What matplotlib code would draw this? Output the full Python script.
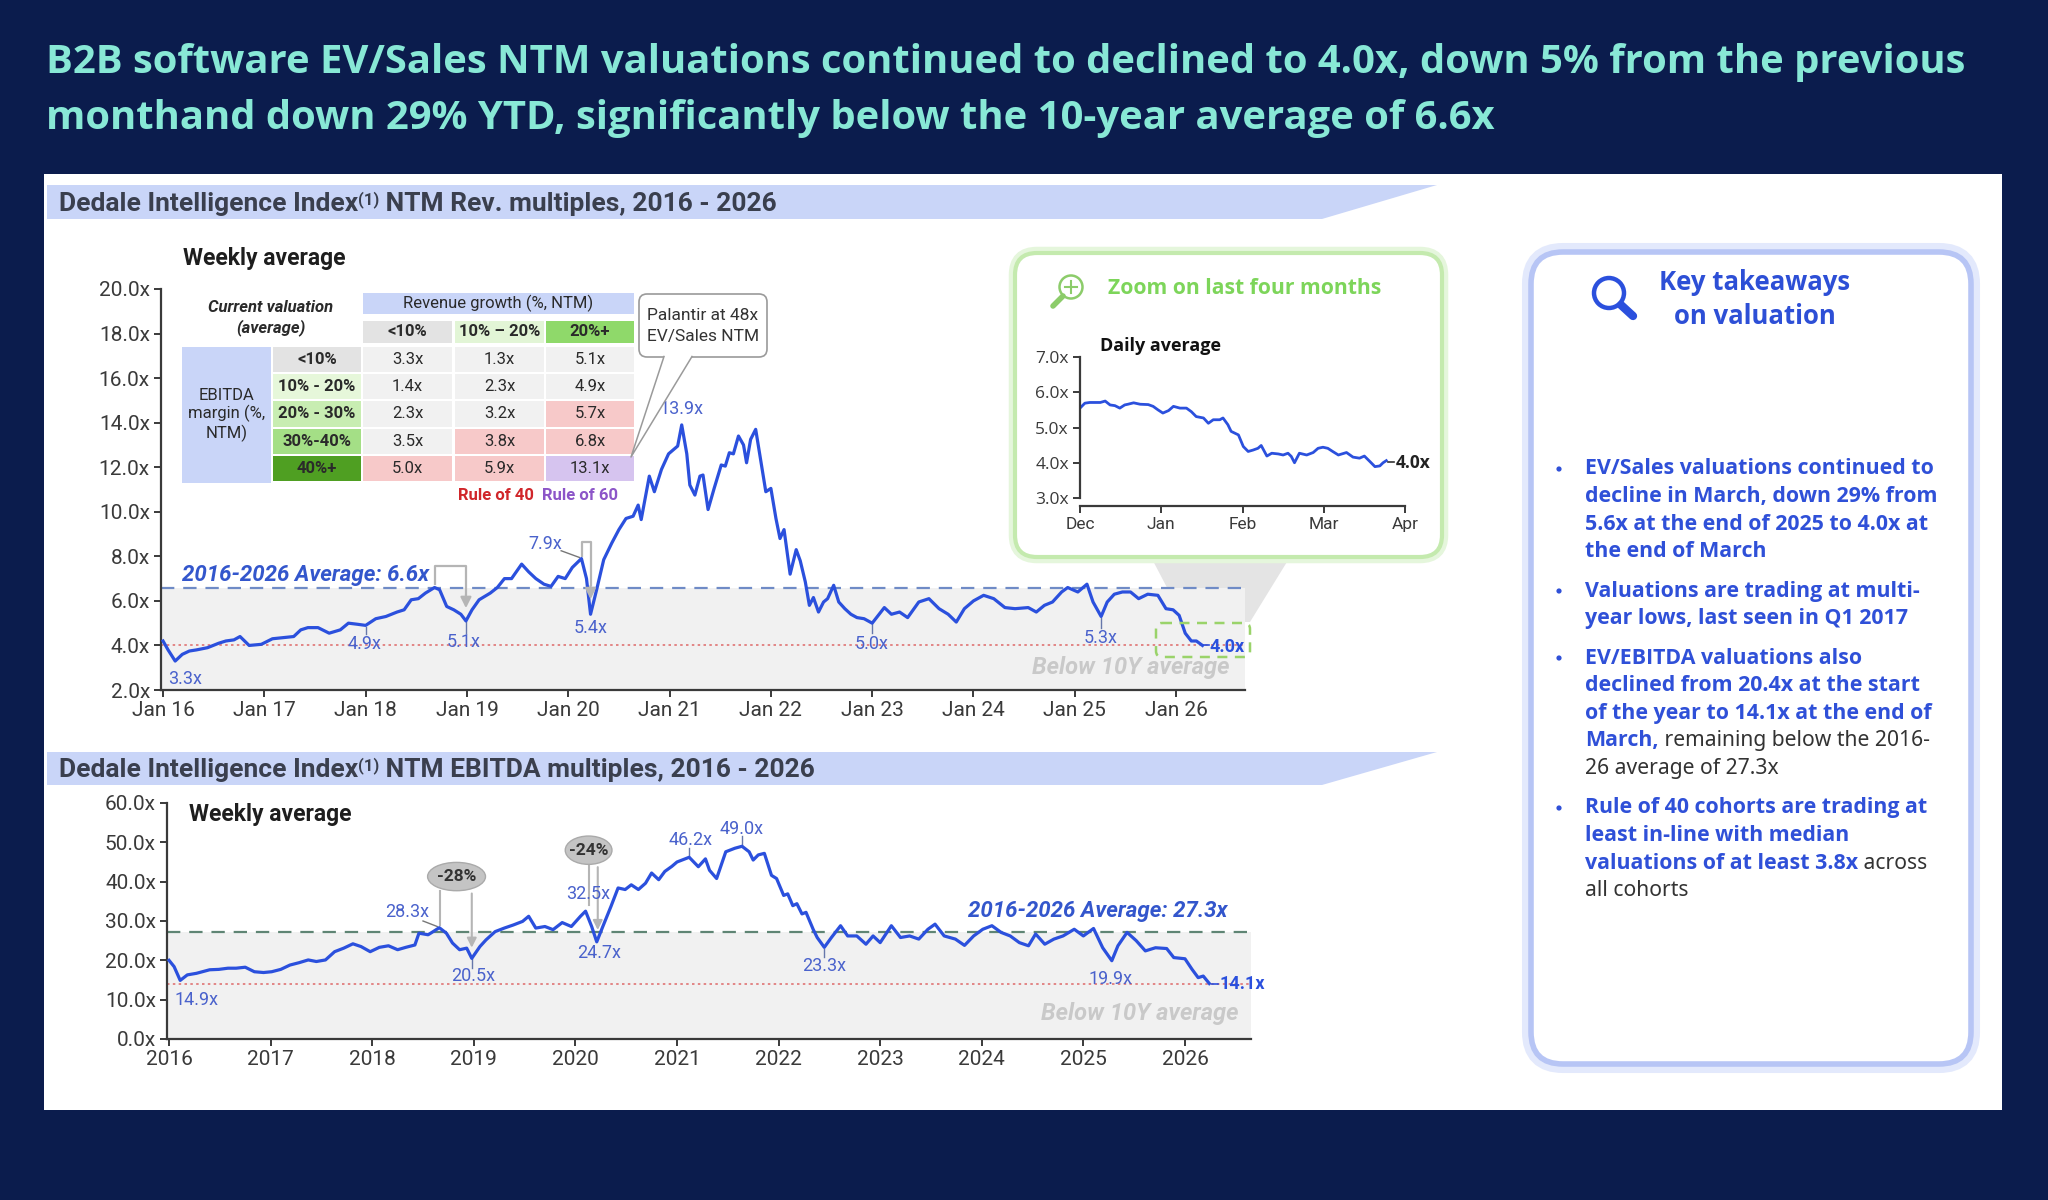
import matplotlib
matplotlib.use('Agg')
import matplotlib.pyplot as plt
from matplotlib.patches import Rectangle, FancyBboxPatch, Polygon, Ellipse, Circle

NARROW = ['Liberation Sans Narrow', 'Roboto', 'DejaVu Sans']
OPEN = ['Open Sans', 'DejaVu Sans']
NOTO = ['Noto Sans', 'DejaVu Sans']
plt.rcParams['font.family'] = NARROW

# ---------------- DATA ----------------
title_lines = ["B2B software EV/Sales NTM valuations continued to declined to 4.0x, down 5% from the previous",
               "monthand down 29% YTD, significantly below the 10-year average of 6.6x"]

# EV/Sales NTM weekly average, x in fractional years
evs_t = [2016.00, 2016.05, 2016.12, 2016.19, 2016.26, 2016.33, 2016.44, 2016.55, 2016.62, 2016.70, 2016.76, 2016.85, 2016.97,
         2017.08, 2017.18, 2017.29, 2017.36, 2017.43, 2017.53, 2017.64, 2017.75, 2017.83, 2017.92,
         2018.00, 2018.10, 2018.20, 2018.31, 2018.38, 2018.45, 2018.52, 2018.59, 2018.68, 2018.73, 2018.80, 2018.87, 2018.94, 2018.99,
         2019.05, 2019.12, 2019.23, 2019.30, 2019.37, 2019.44, 2019.54, 2019.61, 2019.68, 2019.76, 2019.83, 2019.90, 2019.97,
         2020.04, 2020.13, 2020.18, 2020.22, 2020.28, 2020.35, 2020.43, 2020.50, 2020.57, 2020.64, 2020.69, 2020.72, 2020.80, 2020.85, 2020.92, 2020.99,
         2021.08, 2021.12, 2021.17, 2021.20, 2021.25, 2021.30, 2021.33, 2021.38, 2021.44, 2021.51, 2021.55, 2021.59, 2021.63, 2021.68, 2021.73, 2021.76, 2021.80, 2021.85, 2021.90, 2021.95,
         2022.00, 2022.05, 2022.09, 2022.13, 2022.19, 2022.25, 2022.29, 2022.34, 2022.38, 2022.42, 2022.47, 2022.52, 2022.56, 2022.62, 2022.67, 2022.73, 2022.79, 2022.85, 2022.92,
         2023.00, 2023.06, 2023.12, 2023.19, 2023.27, 2023.35, 2023.46, 2023.56, 2023.66, 2023.75, 2023.83, 2023.91,
         2024.00, 2024.10, 2024.20, 2024.31, 2024.41, 2024.54, 2024.62, 2024.70, 2024.78, 2024.87, 2024.93,
         2025.03, 2025.12, 2025.18, 2025.26, 2025.32, 2025.39, 2025.47, 2025.55, 2025.63, 2025.72, 2025.82, 2025.90, 2025.97,
         2026.03, 2026.09, 2026.15, 2026.20, 2026.26]
evs_v = [4.2, 3.8, 3.3, 3.6, 3.75, 3.8, 3.9, 4.1, 4.2, 4.25, 4.4, 4.0, 4.05,
         4.3, 4.35, 4.4, 4.7, 4.8, 4.8, 4.55, 4.7, 5.0, 4.95,
         4.9, 5.2, 5.3, 5.5, 5.6, 6.05, 6.1, 6.35, 6.6, 6.5, 5.75, 5.6, 5.4, 5.1,
         5.6, 6.05, 6.35, 6.6, 7.0, 7.0, 7.65, 7.3, 7.0, 6.75, 6.65, 7.1, 7.0,
         7.5, 7.9, 7.0, 5.4, 6.5, 7.85, 8.6, 9.2, 9.7, 9.8, 10.3, 9.65, 11.6, 10.9, 11.9, 12.6,
         12.95, 13.9, 12.6, 11.2, 10.75, 11.6, 11.65, 10.1, 11.05, 12.1, 12.05, 12.65, 12.6, 13.4, 13.0, 12.2, 13.25, 13.7, 12.3, 10.9,
         11.05, 9.7, 8.8, 9.2, 7.2, 8.3, 7.8, 6.85, 5.8, 6.15, 5.5, 5.95, 6.1, 6.7, 5.95, 5.65, 5.4, 5.25, 5.2,
         5.0, 5.35, 5.7, 5.4, 5.5, 5.25, 5.95, 6.1, 5.65, 5.4, 5.05, 5.65,
         6.0, 6.25, 6.1, 5.7, 5.65, 5.7, 5.5, 5.8, 5.95, 6.4, 6.6,
         6.4, 6.75, 5.95, 5.3, 5.95, 6.3, 6.4, 6.4, 6.1, 6.3, 6.25, 5.65, 5.6,
         5.35, 4.55, 4.2, 4.2, 4.0]
evs_avg = 6.6
evs_now = 4.0

# EV/EBITDA NTM weekly average
ebitda_t = [2016.00, 2016.05, 2016.11, 2016.18, 2016.27, 2016.40, 2016.49, 2016.58, 2016.66, 2016.75, 2016.84, 2016.93,
            2017.01, 2017.10, 2017.19, 2017.28, 2017.37, 2017.45, 2017.54, 2017.63, 2017.72, 2017.81, 2017.89, 2017.98,
            2018.07, 2018.16, 2018.25, 2018.33, 2018.42, 2018.46, 2018.55, 2018.60, 2018.66, 2018.73, 2018.79, 2018.86, 2018.93, 2018.98,
            2019.06, 2019.12, 2019.21, 2019.30, 2019.39, 2019.48, 2019.54, 2019.61, 2019.70, 2019.78, 2019.87, 2019.96,
            2020.05, 2020.10, 2020.16, 2020.21, 2020.27, 2020.35, 2020.42, 2020.49, 2020.55, 2020.62, 2020.69, 2020.75, 2020.82, 2020.88, 2020.95,
            2021.00, 2021.12, 2021.21, 2021.28, 2021.32, 2021.39, 2021.48, 2021.57, 2021.64, 2021.71, 2021.75, 2021.80, 2021.86, 2021.93, 2021.98,
            2022.05, 2022.09, 2022.14, 2022.18, 2022.23, 2022.27, 2022.34, 2022.38, 2022.45, 2022.52, 2022.61, 2022.68, 2022.77, 2022.86, 2022.93,
            2023.00, 2023.11, 2023.20, 2023.29, 2023.38, 2023.47, 2023.54, 2023.63, 2023.74, 2023.83, 2023.92,
            2024.01, 2024.10, 2024.19, 2024.28, 2024.37, 2024.46, 2024.53, 2024.62, 2024.71, 2024.80, 2024.91,
            2025.00, 2025.10, 2025.19, 2025.28, 2025.34, 2025.43, 2025.52, 2025.61, 2025.71, 2025.82, 2025.89,
            2026.00, 2026.07, 2026.13, 2026.18, 2026.24]
ebitda_v = [20.0, 18.4, 14.9, 16.3, 16.7, 17.6, 17.7, 18.0, 18.0, 18.25, 17.1, 16.9,
            17.1, 17.7, 18.8, 19.4, 20.1, 19.7, 20.1, 22.2, 23.1, 24.2, 23.5, 22.2,
            23.3, 23.7, 22.7, 23.3, 23.9, 26.9, 26.5, 27.3, 28.3, 26.9, 24.4, 22.7, 23.1, 20.5,
            23.5, 25.2, 27.3, 28.2, 29.0, 29.9, 31.2, 28.2, 28.6, 27.8, 29.6, 28.6,
            31.2, 32.5, 28.6, 24.7, 28.6, 33.7, 38.4, 38.0, 39.2, 38.0, 39.6, 42.2, 40.5, 42.6, 43.9,
            45.0, 46.2, 43.8, 45.8, 42.9, 40.8, 47.6, 48.5, 49.0, 47.6, 45.5, 46.8, 47.2, 41.6, 40.8,
            36.5, 36.9, 33.9, 34.4, 31.8, 32.2, 27.9, 25.8, 23.3, 25.8, 28.8, 26.2, 26.2, 24.1, 26.2,
            24.5, 28.8, 25.8, 26.2, 25.4, 27.9, 29.2, 26.2, 25.4, 23.8, 26.2,
            27.9, 28.8, 27.1, 26.2, 24.5, 23.7, 26.7, 24.1, 25.4, 26.2, 27.9,
            26.2, 28.1, 23.2, 19.9, 23.7, 27.1, 25.0, 22.4, 23.2, 23.0, 20.7,
            20.4, 17.7, 15.6, 16.0, 14.1]
ebitda_avg = 27.3
ebitda_now = 14.1

# Zoom on last four months: daily EV/Sales (x = months since 1 Dec 2025)
zoom_t = [0.00, 0.06, 0.12, 0.25, 0.31, 0.37, 0.43, 0.49, 0.55, 0.59, 0.66, 0.74, 0.84, 0.90, 0.96,
          1.02, 1.09, 1.15, 1.23, 1.31, 1.37, 1.43, 1.52, 1.58, 1.64, 1.72, 1.76, 1.82, 1.86, 1.95,
          2.01, 2.07, 2.13, 2.19, 2.23, 2.30, 2.36, 2.44, 2.50, 2.56, 2.60, 2.64, 2.70, 2.79, 2.87, 2.93, 2.99,
          3.05, 3.11, 3.18, 3.28, 3.36, 3.44, 3.50, 3.57, 3.63, 3.69, 3.73, 3.77]
zoom_v = [5.55, 5.69, 5.71, 5.71, 5.75, 5.64, 5.62, 5.55, 5.64, 5.66, 5.70, 5.66, 5.65, 5.60, 5.50,
          5.41, 5.48, 5.60, 5.55, 5.55, 5.45, 5.31, 5.27, 5.12, 5.22, 5.22, 5.27, 5.08, 4.89, 4.79,
          4.46, 4.32, 4.36, 4.41, 4.49, 4.19, 4.27, 4.25, 4.22, 4.27, 4.18, 4.00, 4.27, 4.22, 4.29, 4.41, 4.44,
          4.41, 4.32, 4.22, 4.29, 4.16, 4.13, 4.19, 4.03, 3.89, 3.91, 4.00, 4.06]
zoom_months = ['Dec', 'Jan', 'Feb', 'Mar', 'Apr']

# Current valuation table
tab_cols = ['<10%', '10% – 20%', '20%+']
tab_rows = ['<10%', '10% - 20%', '20% - 30%', '30%-40%', '40%+']
tab_vals = [[3.3, 1.3, 5.1],
            [1.4, 2.3, 4.9],
            [2.3, 3.2, 5.7],
            [3.5, 3.8, 6.8],
            [5.0, 5.9, 13.1]]

# Key takeaways: list of bullets, each a list of lines, each line a list of (text, bold)
bullets = [
    [[("EV/Sales valuations continued to", True)],
     [("decline in March, down 29% from", True)],
     [("5.6x at the end of 2025 to 4.0x at", True)],
     [("the end of March", True)]],
    [[("Valuations are trading at multi-", True)],
     [("year lows, last seen in Q1 2017", True)]],
    [[("EV/EBITDA valuations also", True)],
     [("declined from 20.4x at the start", True)],
     [("of the year to 14.1x at the end of", True)],
     [("March,", True), (" remaining below the 2016-", False)],
     [("26 average of 27.3x", False)]],
    [[("Rule of 40 cohorts are trading at", True)],
     [("least in-line with median", True)],
     [("valuations of at least 3.8x", True), (" across", False)],
     [("all cohorts", False)]],
]

# ---------------- STYLE ----------------
W, H = 2048, 1200
NAVY = '#0b1c4d'
MINT = '#88e8d6'
BLUE = '#2b50dd'
LBL = '#4a62cc'
BAND = '#c9d5f8'

fig = plt.figure(figsize=(W / 100, H / 100), dpi=100)
fig.patch.set_facecolor(NAVY)


def rect(x0, y0, x1, y1):
    return [x0 / W, 1 - y1 / H, (x1 - x0) / W, (y1 - y0) / H]


def overlay(z):
    a = fig.add_axes([0, 0, 1, 1], zorder=z)
    a.set_xlim(0, W)
    a.set_ylim(H, 0)
    a.axis('off')
    return a


bg = overlay(0)
fg = overlay(5)

# title
for i, line in enumerate(title_lines):
    bg.text(46, 63 + i * 56, line, color=MINT, fontsize=28.8, fontweight='bold',
            family=OPEN, va='center', ha='left')

# white panel
bg.add_patch(Rectangle((44, 174), 1958, 936, fc='white', ec='none'))

# header bands
for (y0, y1, main, rest) in [(185, 219, "Dedale Intelligence Index", " NTM Rev. multiples, 2016 - 2026"),
                             (752, 785, "Dedale Intelligence Index", " NTM EBITDA multiples, 2016 - 2026")]:
    bg.add_patch(Polygon([(47, y0), (1437, y0), (1322, y1), (47, y1)], closed=True, fc=BAND, ec='none'))
    t1 = bg.text(59, y1 - 8, main, fontsize=19, fontweight='bold', color='#3a3f4e', va='baseline', ha='left')
    t2 = bg.annotate("(1)", xy=(1, 1.02), xycoords=t1, va='top', ha='left', fontsize=12,
                     fontweight='bold', color='#3a3f4e')
    bg.annotate(rest, xy=(1, 0), xycoords=(t2, t1), va='bottom', ha='left', fontsize=19,
                fontweight='bold', color='#3a3f4e')

# grey connector between zoom box and end of series
bg.add_patch(Polygon([(1151, 557), (1290, 557), (1250, 622), (1185, 622)], closed=True,
                     fc='#e4e4e4', ec='none'))


def style_axes(ax, size, fam=NARROW):
    for s in ['top', 'right']:
        ax.spines[s].set_visible(False)
    for s in ['left', 'bottom']:
        ax.spines[s].set_color('#3a3a3a')
        ax.spines[s].set_linewidth(1.6)
    ax.tick_params(axis='both', direction='out', length=5, width=1.4, color='#3a3a3a',
                   labelsize=size, labelcolor='#3a3a3a', pad=3)
    for lab in ax.get_xticklabels() + ax.get_yticklabels():
        lab.set_family(fam)
    ax.patch.set_visible(False)


# ---------------- TOP CHART: EV/Sales ----------------
ax1 = fig.add_axes(rect(161, 289, 1245, 690), zorder=2)
ax1.set_xlim(2015.98, 2026.68)
ax1.set_ylim(2, 20)
ax1.axhspan(2, evs_avg, color='#f1f1f1', lw=0, zorder=0)
ax1.axhline(evs_avg, color='#6f8bc6', ls=(0, (6, 4)), lw=1.6, zorder=1)
ax1.axhline(evs_now, color='#e07474', ls=(0, (1.5, 2)), lw=1.2, zorder=1)
ax1.plot(evs_t, evs_v, color=BLUE, lw=2.3, zorder=3, solid_joinstyle='round')
yt = [2 + 2 * i for i in range(10)]
ax1.set_yticks(yt)
ax1.set_yticklabels([f"{v:.1f}x" for v in yt])
xt = list(range(2016, 2027))
ax1.set_xticks(xt)
ax1.set_xticklabels([f"Jan {y % 100:02d}" for y in xt])
style_axes(ax1, 15)

lab_kw = dict(color=LBL, fontsize=13, ha='center', va='center')
for (x, y, s) in [(2016.22, 2.5, "3.3x"), (2017.99, 4.05, "4.9x"), (2018.97, 4.15, "5.1x"),
                  (2020.22, 4.8, "5.4x"), (2019.77, 8.56, "7.9x"), (2021.12, 14.6, "13.9x"),
                  (2022.99, 4.05, "5.0x"), (2025.25, 4.34, "5.3x")]:
    ax1.text(x, y, s, zorder=4, **lab_kw)
for (x, y0, y1) in [(2018.0, 4.85, 4.5), (2018.99, 5.05, 4.55), (2023.0, 4.95, 4.55), (2025.26, 5.25, 4.8)]:
    ax1.plot([x, x], [y0, y1], color='#6677aa', lw=1, zorder=2)
ax1.plot([2019.93, 2020.11], [8.25, 7.95], color='#777777', lw=1, zorder=2)
ax1.plot([2026.27, 2026.32], [4.0, 4.0], color=BLUE, lw=1.2)
ax1.text(2026.33, 3.95, "4.0x", color=BLUE, fontsize=13, fontweight='bold', ha='left', va='center')
ax1.text(2016.19, 7.16, "2016-2026 Average: 6.6x", color='#3356cc', fontsize=16, fontweight='bold',
         style='italic', ha='left', va='center')
ax1.text(2026.53, 3.0, "Below 10Y average", color='#c9c9c9', fontsize=17, fontweight='bold',
         style='italic', ha='right', va='center')
# brackets
GR = '#b5b5b5'
ax1.plot([2018.68, 2018.68, 2018.99, 2018.99], [6.75, 7.55, 7.55, 6.3], color=GR, lw=1.6, zorder=2)
ax1.annotate('', xy=(2018.99, 5.55), xytext=(2018.99, 6.4),
             arrowprops=dict(arrowstyle='-|>', color=GR, lw=1.6, mutation_scale=16))
ax1.plot([2020.14, 2020.14, 2020.22, 2020.22], [8.0, 8.65, 8.65, 6.7], color=GR, lw=1.6, zorder=2)
ax1.annotate('', xy=(2020.22, 5.95), xytext=(2020.22, 6.8),
             arrowprops=dict(arrowstyle='-|>', color=GR, lw=1.6, mutation_scale=16))

# ---------------- BOTTOM CHART: EV/EBITDA ----------------
ax2 = fig.add_axes(rect(167, 803, 1251, 1039), zorder=2)
ax2.set_xlim(2015.98, 2026.65)
ax2.set_ylim(0, 60)
ax2.axhspan(0, ebitda_avg, color='#f1f1f1', lw=0, zorder=0)
ax2.axhline(ebitda_avg, color='#5f8574', ls=(0, (6, 4)), lw=1.6, zorder=1)
ax2.axhline(ebitda_now, color='#e07474', ls=(0, (1.5, 2)), lw=1.2, zorder=1)
ax2.plot(ebitda_t, ebitda_v, color=BLUE, lw=2.3, zorder=3, solid_joinstyle='round')
yt2 = [10 * i for i in range(7)]
ax2.set_yticks(yt2)
ax2.set_yticklabels([f"{v:.1f}x" for v in yt2])
ax2.set_xticks(xt)
ax2.set_xticklabels([str(y) for y in xt])
style_axes(ax2, 15)

for (x, y, s) in [(2016.27, 9.9, "14.9x"), (2018.34, 32.2, "28.3x"), (2018.99, 15.9, "20.5x"),
                  (2020.13, 36.8, "32.5x"), (2020.23, 21.9, "24.7x"), (2021.13, 50.7, "46.2x"),
                  (2021.64, 53.4, "49.0x"), (2022.45, 18.6, "23.3x"), (2025.27, 15.2, "19.9x")]:
    ax2.text(x, y, s, zorder=4, **lab_kw)
for (x, y0, y1) in [(2018.98, 20.3, 18.0), (2021.12, 46.5, 48.5), (2021.64, 49.3, 51.5),
                    (2022.45, 23.0, 20.8)]:
    ax2.plot([x, x], [y0, y1], color='#6677aa', lw=1, zorder=2)
ax2.plot([2018.5, 2018.64], [30.0, 28.6], color='#777777', lw=1, zorder=2)
ax2.plot([2026.27, 2026.33], [14.1, 14.1], color=BLUE, lw=1.2)
ax2.text(2026.34, 13.9, "14.1x", color=BLUE, fontsize=13, fontweight='bold', ha='left', va='center',
         clip_on=False)
ax2.text(2026.42, 32.5, "2016-2026 Average: 27.3x", color='#3356cc', fontsize=16, fontweight='bold',
         style='italic', ha='right', va='center')
ax2.text(2026.53, 6.6, "Below 10Y average", color='#c9c9c9', fontsize=17, fontweight='bold',
         style='italic', ha='right', va='center')
for (cx, cy, w, h, s, xs) in [(2018.83, 41.3, 0.57, 7.2, "-28%", (2018.67, 2018.98)),
                              (2020.13, 48.0, 0.46, 7.2, "-24%", (2020.13, 2020.22))]:
    ax2.add_patch(Ellipse((cx, cy), w, h, fc='#c4c4c4', ec='#aaaaaa', lw=1, zorder=4))
    ax2.text(cx, cy, s, fontsize=12.5, fontweight='bold', color='#333333', ha='center', va='center', zorder=5)
    top = cy - h / 2
    if s == "-28%":
        ax2.plot([xs[0], xs[0]], [top, 29.0], color=GR, lw=1.5, zorder=2)
        ax2.annotate('', xy=(xs[1], 22.5), xytext=(xs[1], top),
                     arrowprops=dict(arrowstyle='-|>', color=GR, lw=1.5, mutation_scale=14))
    else:
        ax2.plot([xs[0], xs[0]], [top, 34.0], color=GR, lw=1.5, zorder=2)
        ax2.annotate('', xy=(xs[1], 27.0), xytext=(xs[1], top),
                     arrowprops=dict(arrowstyle='-|>', color=GR, lw=1.5, mutation_scale=14))

# "Weekly average" labels
fg.text(183, 259, "Weekly average", fontsize=16.5, fontweight='bold', color='#1e1e1e', va='center', ha='left')
fg.text(189, 815, "Weekly average", fontsize=16.5, fontweight='bold', color='#1e1e1e', va='center', ha='left')

# ---------------- TABLE ----------------
TXT = dict(fontsize=12, ha='center', va='center', color='#2a2a2a')
fg.text(271, 308, "Current valuation", fontsize=12, fontweight='bold', style='italic', ha='center',
        va='center', color='#2a2a2a')
fg.text(271, 328, "(average)", fontsize=12, fontweight='bold', style='italic', ha='center',
        va='center', color='#2a2a2a')
fg.add_patch(Rectangle((363, 293), 271, 21, fc=BAND, ec='none'))
fg.text(498, 303.5, "Revenue growth (%, NTM)", **TXT)
col_x = [(363, 452), (455, 544), (546, 634)]
col_fc = ['#e3e3e3', '#e2f5d6', '#8fd96a']
for (x0, x1), fc, s in zip(col_x, col_fc, tab_cols):
    fg.add_patch(Rectangle((x0, 321), x1 - x0, 22, fc=fc, ec='none'))
    fg.text((x0 + x1) / 2, 332, s, fontweight='bold', **TXT)
row_y = [(347 + 27.2 * i, 347 + 27.2 * i + 25.2) for i in range(5)]
fg.add_patch(Rectangle((182, 347), 89, 136, fc=BAND, ec='none'))
fg.text(226.5, 415, "EBITDA\nmargin (%,\nNTM)", linespacing=1.15, **TXT)
row_fc = ['#e3e3e3', '#e6f7da', '#c8edb2', '#a4df86', '#4f9f22']
cell_fc = [['#f1f1f1', '#f1f1f1', '#f1f1f1'],
           ['#f1f1f1', '#f1f1f1', '#f1f1f1'],
           ['#f1f1f1', '#f1f1f1', '#f7c9c9'],
           ['#f1f1f1', '#f7c9c9', '#f7c9c9'],
           ['#f7c9c9', '#f7c9c9', '#d6c4ef']]
for i, ((y0, y1), fc, s) in enumerate(zip(row_y, row_fc, tab_rows)):
    fg.add_patch(Rectangle((273, y0), 88, y1 - y0, fc=fc, ec='none'))
    fg.text(317, (y0 + y1) / 2, s, fontweight='bold', **TXT)
    for j, (x0, x1) in enumerate(col_x):
        fg.add_patch(Rectangle((x0, y0), x1 - x0, y1 - y0, fc=cell_fc[i][j], ec='none'))
        fg.text((x0 + x1) / 2, (y0 + y1) / 2, f"{tab_vals[i][j]:.1f}x", **TXT)
fg.text(496, 495, "Rule of 40", fontsize=12, fontweight='bold', color='#d0262a', ha='center', va='center')
fg.text(580, 495, "Rule of 60", fontsize=12, fontweight='bold', color='#8c55c8', ha='center', va='center')

# Palantir callout
fg.add_patch(FancyBboxPatch((639, 294), 128, 63, boxstyle='round,pad=0,rounding_size=8',
                            fc='white', ec='#9a9a9a', lw=1.2))
fg.add_patch(Polygon([(664, 356), (692, 356), (631, 457)], closed=True, fc='white', ec='none'))
fg.plot([664, 631, 692], [356.5, 457, 356.5], color='#9a9a9a', lw=1.1)
fg.text(703, 316, "Palantir at 48x", fontsize=12.5, color='#333333', ha='center', va='center')
fg.text(703, 337, "EV/Sales NTM", fontsize=12.5, color='#333333', ha='center', va='center')

# green dashed box at the end of the EV/Sales series
fg.add_patch(FancyBboxPatch((1156, 623), 94, 34, boxstyle='round,pad=0,rounding_size=6',
                            fc='none', ec='#9ad36a', lw=1.8, ls=(0, (4, 3))))

# ---------------- ZOOM BOX ----------------
fg.add_patch(FancyBboxPatch((1015, 253), 427, 304, boxstyle='round,pad=0,rounding_size=22',
                            fc='white', ec='#e5f6dc', lw=9))
fg.add_patch(FancyBboxPatch((1015, 253), 427, 304, boxstyle='round,pad=0,rounding_size=22',
                            fc='white', ec='#c4eaae', lw=3))
fg.add_patch(Circle((1071, 287), 11.5, fc='none', ec='#8ccc6a', lw=1.8))
fg.plot([1071, 1071], [281, 293], color='#8ccc6a', lw=1.5)
fg.plot([1065, 1077], [287, 287], color='#8ccc6a', lw=1.5)
fg.plot([1063, 1053], [296, 306], color='#8ccc6a', lw=4, solid_capstyle='round')
fg.text(1108, 288, "Zoom on last four months", fontsize=15.2, fontweight='bold', color='#7dd55a',
        family=OPEN, ha='left', va='center')
fg.text(1100, 346, "Daily average", fontsize=13, fontweight='bold', color='#111111',
        family=OPEN, ha='left', va='center')

ax3 = fig.add_axes(rect(1080, 357, 1405, 498), zorder=6)
ax3.set_xlim(0, 4)
ax3.set_ylim(3, 7)
ax3.plot(zoom_t, zoom_v, color=BLUE, lw=2, solid_joinstyle='round')
ax3.set_yticks([3, 4, 5, 6, 7])
ax3.set_yticklabels([f"{v:.1f}x" for v in [3, 4, 5, 6, 7]])
ax3.set_xticks(range(5))
ax3.set_xticklabels(zoom_months)
style_axes(ax3, 12.5, fam=OPEN)
ax3.spines['bottom'].set_position(('outward', 6))
ax3.plot([3.79, 3.87], [4.02, 4.02], color='#333333', lw=1.2)
ax3.text(3.89, 4.0, "4.0x", fontsize=12.5, fontweight='bold', color='#222222', family=OPEN,
         ha='left', va='center', clip_on=False)

# ---------------- KEY TAKEAWAYS CARD ----------------
fg.add_patch(FancyBboxPatch((1531, 252), 440, 812, boxstyle='round,pad=0,rounding_size=32',
                            fc='white', ec='#e3e9fc', lw=13))
fg.add_patch(FancyBboxPatch((1531, 252), 440, 812, boxstyle='round,pad=0,rounding_size=32',
                            fc='white', ec='#b7c5f5', lw=4))
fg.add_patch(Circle((1609, 293), 15, fc='none', ec=BLUE, lw=3.2))
fg.plot([1621, 1633], [305, 316], color=BLUE, lw=6, solid_capstyle='round')
fg.text(1755, 283, "Key takeaways", fontsize=18.5, fontweight='bold', color='#2d4fd6', family=OPEN,
        ha='center', va='center')
fg.text(1755, 316, "on valuation", fontsize=18.5, fontweight='bold', color='#2d4fd6', family=OPEN,
        ha='center', va='center')

BUL_BLUE = '#2f50d8'
starts = [468, 590, 657, 807]
LS = 27.6
renderer = fig.canvas.get_renderer()
inv = fg.transData.inverted()
for b, y0 in zip(bullets, starts):
    fg.add_patch(Circle((1559, y0 + 1), 2.6, fc=BUL_BLUE, ec='none'))
    for k, line in enumerate(b):
        y = y0 + k * LS + 6.5
        x = 1585
        for (s, bold) in line:
            if bold:
                kw = dict(fontsize=15.4, family=OPEN, fontweight='bold', color=BUL_BLUE)
            else:
                kw = dict(fontsize=15.2, family=NOTO, fontweight='normal', color='#333333')
            t = fg.text(x, y, s, ha='left', va='baseline', **kw)
            bb = t.get_window_extent(renderer)
            x = inv.transform((bb.x1, bb.y0))[0]

fig.savefig('out.png', dpi=100, facecolor=NAVY)
